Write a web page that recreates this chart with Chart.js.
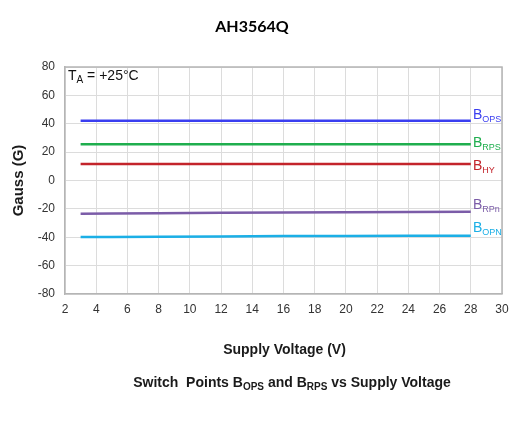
<!DOCTYPE html>
<html><head><meta charset="utf-8">
<script src="https://cdn.jsdelivr.net/npm/chart.js@4/dist/chart.umd.min.js"></script>
<style>html,body{margin:0;padding:0;background:#fff;}#wrap{width:526px;height:437px;}</style>
</head><body><div id="wrap"><canvas id="c" width="526" height="437"></canvas></div>
<script>
const voltages = [3, 5, 8, 12, 16, 20, 24, 28];
const bOPS = [42.1, 42.1, 42.1, 42.1, 42.2, 42.2, 42.2, 42.2];
const bRPS = [25.5, 25.5, 25.5, 25.5, 25.5, 25.5, 25.5, 25.5];
const bHY = [11.7, 11.7, 11.7, 11.7, 11.6, 11.6, 11.6, 11.6];
const bRPn = [-23.5, -23.3, -23.1, -22.8, -22.6, -22.4, -22.2, -22.0];
const bOPN = [-39.8, -39.8, -39.6, -39.4, -39.2, -39.1, -39.0, -38.9];
const seriesNames = [["B","OPS"],["B","RPS"],["B","HY"],["B","RPn"],["B","OPN"]];
const seriesColors = ["#3a3ef0", "#1fae4e", "#c3242b", "#7b5ca8", "#1bafe6"];
const xTicks = [2,4,6,8,10,12,14,16,18,20,22,24,26,28,30];
const yTicks = [-80,-60,-40,-20,0,20,40,60,80];

const allSeries = [bOPS, bRPS, bHY, bRPn, bOPN];
const datasets = allSeries.map((vals, i) => ({
  label: seriesNames[i].join(""),
  data: voltages.map((v, j) => ({x: v, y: vals[j]})),
  borderColor: seriesColors[i],
  backgroundColor: seriesColors[i],
  borderWidth: 2.5,
  pointRadius: 0,
  tension: 0
}));

const labelOffsets = [[473, 114], [473, 142], [473, 165], [473, 204], [473, 227]];

function subText(ctx, x, y, main, sub, mainSize, subSize, color) {
  ctx.save();
  ctx.fillStyle = color;
  ctx.textBaseline = "alphabetic";
  ctx.textAlign = "left";
  ctx.font = mainSize;
  const w1 = ctx.measureText(main).width;
  ctx.fillText(main, x, y);
  ctx.font = subSize;
  ctx.fillText(sub, x + w1, y + 3);
  ctx.restore();
}

const textPlugin = {
  id: "texts",
  afterDraw(chart) {
    const ctx = chart.ctx;
    const ca = chart.chartArea;
    ctx.save();
    ctx.fillStyle = "#000";
    ctx.font = "bold 16px Lato";
    ctx.textAlign = "center";
    ctx.textBaseline = "middle";
    ctx.fillText("AH3564Q", 252, 27);
    ctx.save();
    ctx.translate(19, (ca.top + ca.bottom) / 2);
    ctx.rotate(-Math.PI / 2);
    ctx.font = "bold 15px 'Liberation Sans'";
    ctx.fillStyle = "#1a1a1a";
    ctx.fillText("Gauss (G)", 0, 0);
    ctx.restore();
    ctx.font = "bold 14px 'Liberation Sans'";
    ctx.fillStyle = "#1a1a1a";
    ctx.fillText("Supply Voltage (V)", (ca.left + ca.right) / 2 + 1, 350);
    const parts = [["Switch  Points B", "bold 14px 'Liberation Sans'", 0],
                   ["OPS", "bold 10px 'Liberation Sans'", 3],
                   [" and B", "bold 14px 'Liberation Sans'", 0],
                   ["RPS", "bold 10px 'Liberation Sans'", 3],
                   [" vs Supply Voltage", "bold 14px 'Liberation Sans'", 0]];
    let total = 0;
    parts.forEach(p => { ctx.font = p[1]; total += ctx.measureText(p[0]).width; });
    let cx = 292 - total / 2;
    ctx.textAlign = "left";
    ctx.textBaseline = "alphabetic";
    parts.forEach(p => { ctx.font = p[1]; ctx.fillText(p[0], cx, 387 + p[2]); cx += ctx.measureText(p[0]).width; });
    ctx.fillStyle = "#111";
    ctx.font = "14px 'Liberation Sans'";
    ctx.fillText("T", 68, 80);
    let tw = ctx.measureText("T").width;
    ctx.font = "10px 'Liberation Sans'";
    ctx.fillText("A", 68 + tw, 83);
    tw += ctx.measureText("A").width;
    ctx.font = "14px 'Liberation Sans'";
    ctx.fillText(" = +25°C", 68 + tw, 80);
    labelOffsets.forEach((pos, i) => {
      subText(ctx, pos[0], pos[1] + 5, seriesNames[i][0], seriesNames[i][1],
        "14px 'Liberation Sans'", "9px 'Liberation Sans'", seriesColors[i]);
    });
    ctx.restore();
  }
};

new Chart(document.getElementById("c"), {
  type: "line",
  data: { datasets },
  options: {
    responsive: false,
    animation: false,
    devicePixelRatio: 1,
    layout: { padding: { left: 0, right: 24, top: 67, bottom: 0 } },
    plugins: { legend: { display: false }, tooltip: { enabled: false }, title: { display: false } },
    scales: {
      x: {
        type: "linear", min: 2, max: 30,
        afterFit(s) { s.height = 143; },
        afterBuildTicks(s) { s.ticks = xTicks.map(v => ({value: v})); },
        grid: { color: "#dcdcdc", lineWidth: 1, drawTicks: false },
        border: { color: "#b5b5b5", width: 1.5 },
        ticks: { color: "#333", font: { family: "'Liberation Sans'", size: 12 }, padding: 8, maxRotation: 0, autoSkip: false }
      },
      y: {
        min: -80, max: 80,
        afterFit(s) { s.width = 65; },
        afterBuildTicks(s) { s.ticks = yTicks.map(v => ({value: v})); },
        grid: { color: "#dcdcdc", lineWidth: 1, drawTicks: false },
        border: { color: "#b5b5b5", width: 1.5 },
        ticks: { color: "#333", font: { family: "'Liberation Sans'", size: 12 }, padding: 10 }
      }
    }
  },
  plugins: [textPlugin, {
    id: "frame",
    beforeDatasetsDraw(chart) {
      const {ctx, chartArea: ca} = chart;
      ctx.save();
      ctx.strokeStyle = "#b5b5b5";
      ctx.lineWidth = 1.5;
      ctx.beginPath();
      ctx.moveTo(ca.left, ca.top); ctx.lineTo(ca.right, ca.top); ctx.lineTo(ca.right, ca.bottom);
      ctx.stroke();
      ctx.restore();
    }
  }]
});
</script></body></html>
